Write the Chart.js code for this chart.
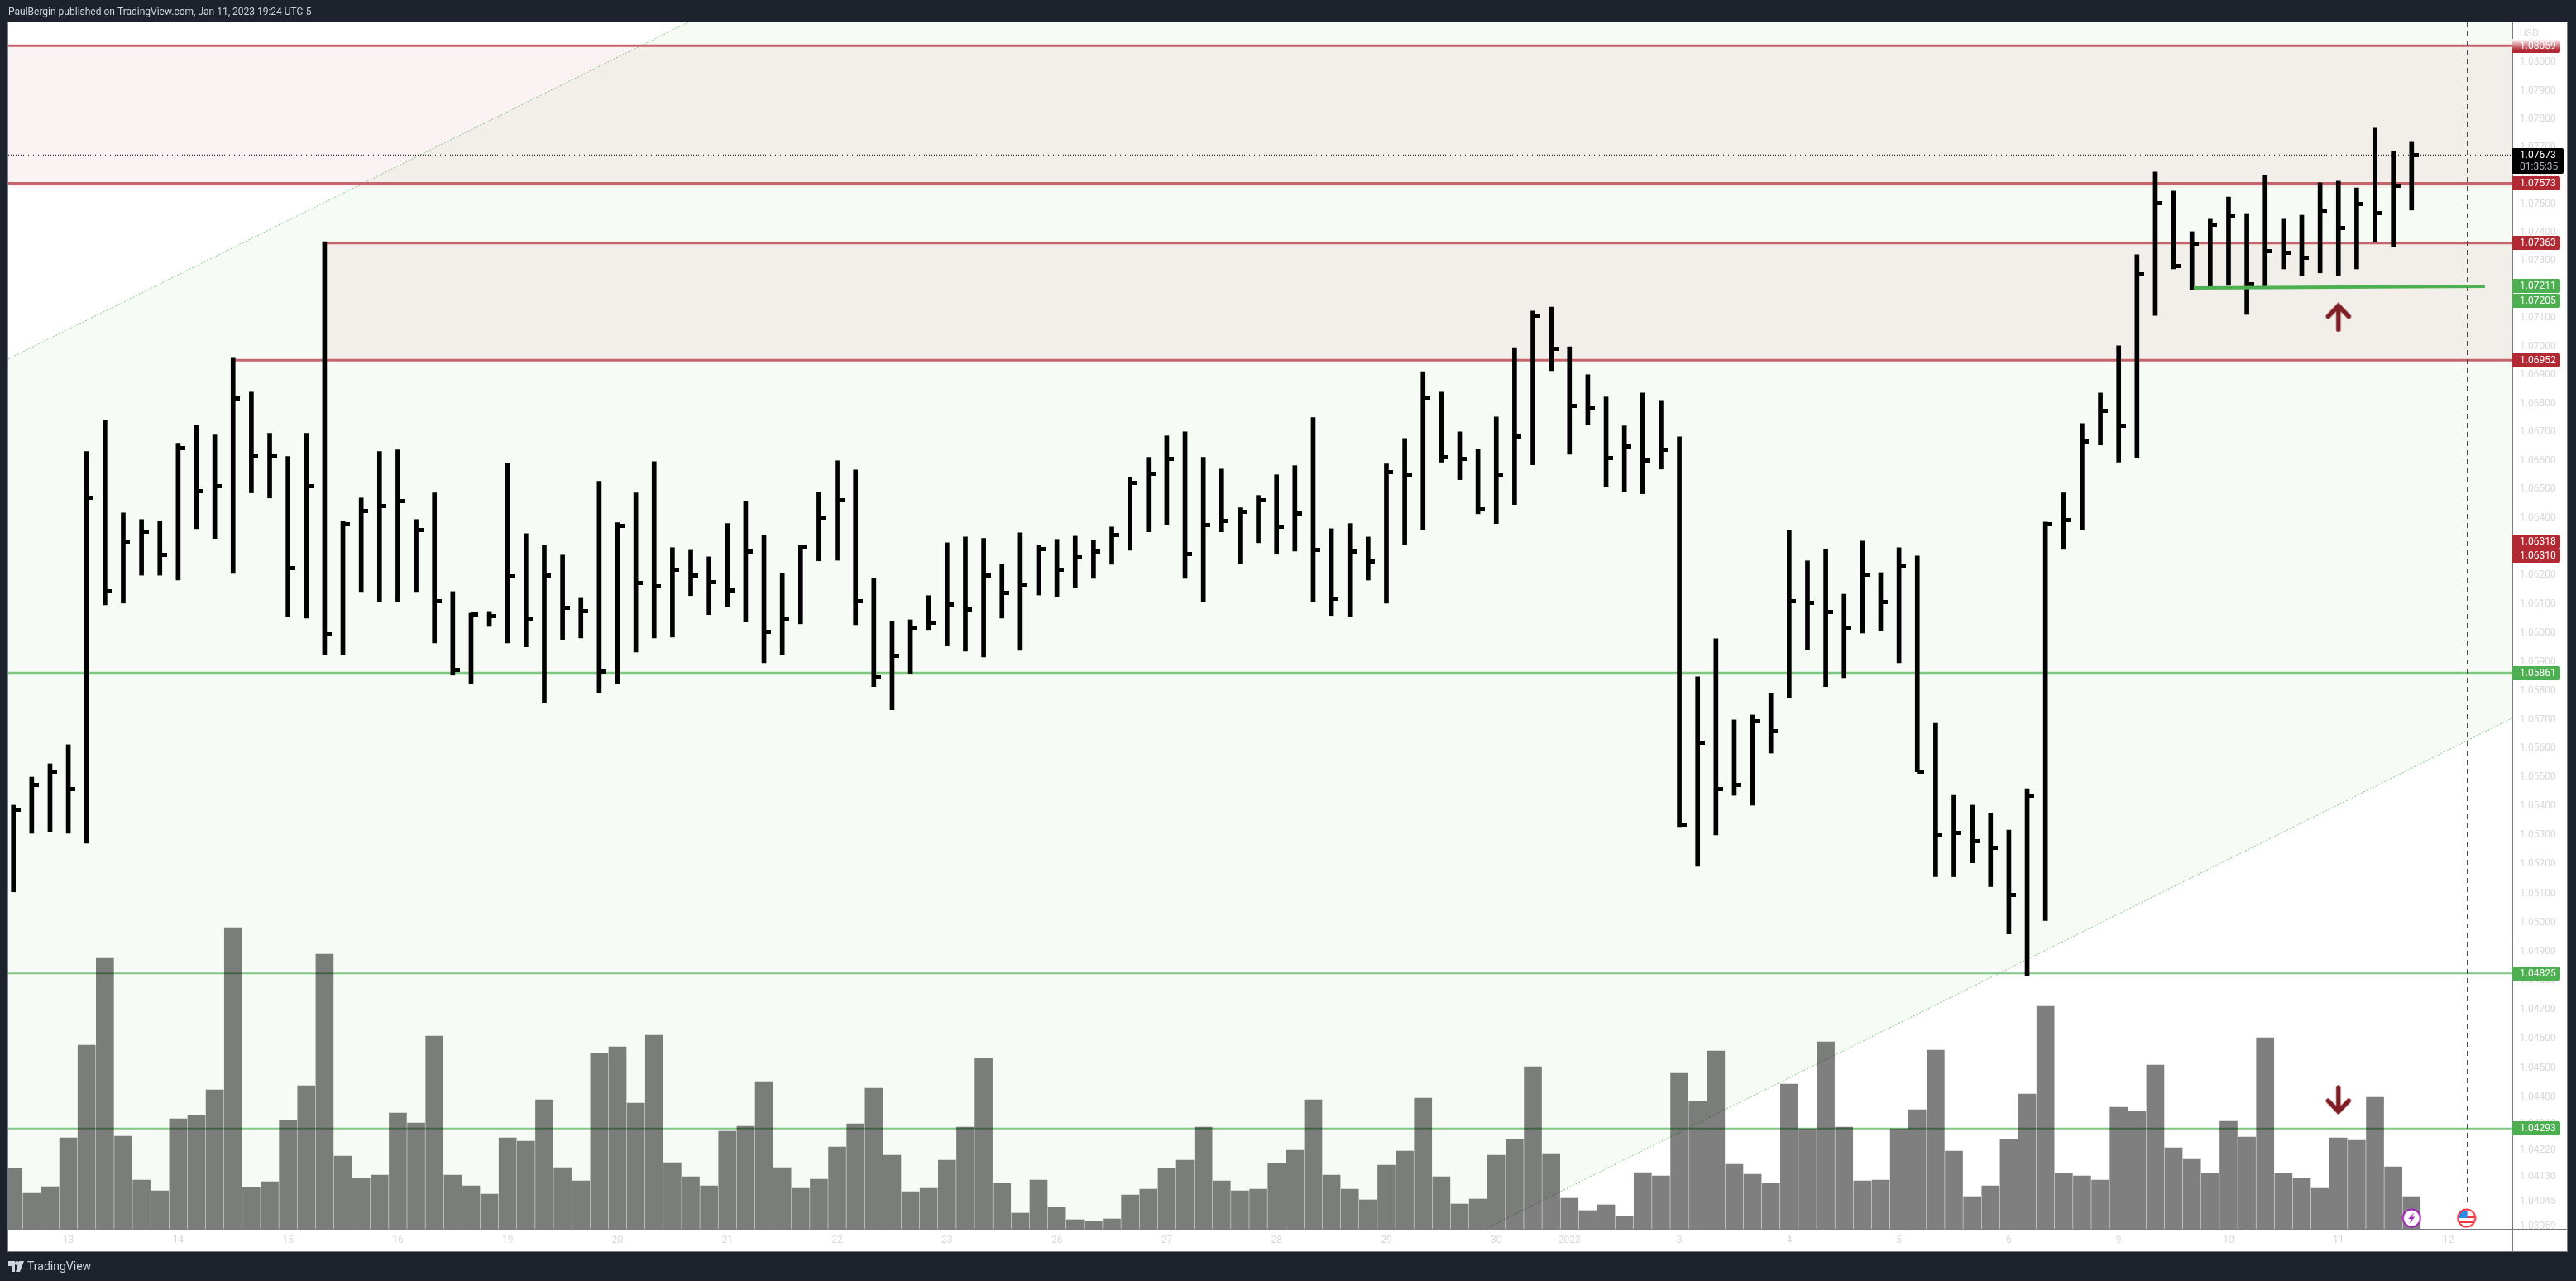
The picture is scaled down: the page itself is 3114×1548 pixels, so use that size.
<!DOCTYPE html>
<html>
<head>
<meta charset="utf-8">
<title>EURUSD 4h</title>
<script src="https://cdn.jsdelivr.net/npm/chart.js@4/dist/chart.umd.min.js"></script>
<style>
  html, body { margin: 0; padding: 0; background: #1e222d; overflow: hidden; }
  canvas { display: block; }
</style>
</head>
<body>
<canvas id="chart" width="3114" height="1548"></canvas>
<script>
// 4h bars, index 0 is the third last bar of Dec 12
const highs = [
  1.05404,1.05501,1.05547,1.05613,1.06632,1.06742,1.06418,1.06395,1.06389,1.06661,
  1.06725,1.06690,1.06959,1.06840,1.06696,1.06615,1.06696,1.07368,1.06389,1.06470,
  1.06632,1.06638,1.06395,1.06488,1.06144,1.06069,1.06075,1.06592,1.06346,1.06305,
  1.06271,1.06121,1.06528,1.06384,1.06488,1.06597,1.06297,1.06288,1.06265,1.06381,
  1.06459,1.06340,1.06207,1.06305,1.06491,1.06600,1.06568,1.06190,1.06041,1.06046,
  1.06130,1.06314,1.06334,1.06329,1.06239,1.06349,1.06305,1.06326,1.06337,1.06323,
  1.06369,1.06542,1.06612,1.06687,1.06701,1.06612,1.06571,1.06436,1.06479,1.06551,
  1.06583,1.06751,1.06363,1.06381,1.06334,1.06589,1.06678,1.06912,1.06840,1.06701,
  1.06641,1.06753,1.06996,1.07124,1.07138,1.06999,1.06901,1.06823,1.06722,1.06837,
  1.06811,1.06684,1.05848,1.05980,1.05699,1.05716,1.05791,1.06358,1.06251,1.06291,
  1.06135,1.06320,1.06210,1.06297,1.06268,1.05687,1.05438,1.05404,1.05376,1.05318,
  1.05461,1.06386,1.06488,1.06730,1.06837,1.07002,1.07322,1.07613,1.07546,1.07403,
  1.07447,1.07525,1.07467,1.07601,1.07447,1.07461,1.07575,1.07581,1.07557,1.07768,
  1.07686,1.07721
];
const lows = [
  1.05105,1.05307,1.05313,1.05307,1.05273,1.06098,1.06104,1.06201,1.06201,1.06184,
  1.06363,1.06329,1.06207,1.06488,1.06470,1.06058,1.06052,1.05923,1.05923,1.06144,
  1.06110,1.06110,1.06144,1.05966,1.05854,1.05825,1.06023,1.05966,1.05952,1.05757,
  1.05978,1.05983,1.05791,1.05825,1.05934,1.05983,1.05986,1.06130,1.06064,1.06092,
  1.06038,1.05897,1.05926,1.06032,1.06251,1.06253,1.06029,1.05814,1.05734,1.05860,
  1.06012,1.05955,1.05937,1.05917,1.06052,1.05940,1.06132,1.06127,1.06158,1.06190,
  1.06239,1.06288,1.06352,1.06378,1.06190,1.06107,1.06352,1.06242,1.06314,1.06274,
  1.06285,1.06110,1.06061,1.06058,1.06184,1.06104,1.06308,1.06358,1.06595,1.06534,
  1.06415,1.06381,1.06447,1.06586,1.06915,1.06623,1.06725,1.06508,1.06491,1.06485,
  1.06571,1.05330,1.05193,1.05301,1.05438,1.05404,1.05584,1.05774,1.05943,1.05814,
  1.05845,1.06000,1.06009,1.05897,1.05519,1.05157,1.05157,1.05205,1.05123,1.04960,
  1.04815,1.05006,1.06291,1.06360,1.06655,1.06595,1.06609,1.07109,1.07272,1.07200,
  1.07208,1.07214,1.07112,1.07211,1.07272,1.07249,1.07258,1.07249,1.07272,1.07368,
  1.07351,1.07479
];
const closes = [
  1.05387,1.05473,1.05519,1.05461,1.06470,1.06144,1.06317,1.06352,1.06271,1.06644,
  1.06493,1.06510,1.06817,1.06615,1.06615,1.06225,1.06510,1.05995,1.06378,1.06424,
  1.06441,1.06459,1.06358,1.06110,1.05871,1.06064,1.06058,1.06196,1.06046,1.06201,
  1.06087,1.06075,1.05866,1.06372,1.06173,1.06161,1.06219,1.06199,1.06176,1.06147,
  1.06282,1.06003,1.06049,1.06297,1.06401,1.06462,1.06112,1.05845,1.05920,1.06018,
  1.06035,1.06098,1.06081,1.06201,1.06138,1.06167,1.06291,1.06219,1.06262,1.06282,
  1.06340,1.06522,1.06554,1.06606,1.06274,1.06375,1.06389,1.06421,1.06462,1.06369,
  1.06415,1.06288,1.06118,1.06282,1.06248,1.06560,1.06551,1.06820,1.06612,1.06606,
  1.06430,1.06548,1.06684,1.07109,1.06993,1.06791,1.06782,1.06609,1.06649,1.06600,
  1.06638,1.05336,1.05619,1.05461,1.05473,1.05693,1.05659,1.06110,1.06104,1.06072,
  1.06020,1.06204,1.06107,1.06233,1.05521,1.05301,1.05307,1.05279,1.05256,1.05094,
  1.05438,1.06378,1.06392,1.06667,1.06774,1.06722,1.07252,1.07502,1.07281,1.07362,
  1.07429,1.07461,1.07217,1.07333,1.07330,1.07310,1.07476,1.07415,1.07499,1.07467,
  1.07566,1.07673
];
// no volume scale on the chart, so these are relative units
const volumes = [
  73,43,51,110,222,327,112,59,46,133,137,168,364,50,57,131,173,332,88,61,
  65,140,128,233,65,52,42,110,106,156,74,58,212,220,152,234,80,63,52,118,
  124,178,74,49,60,99,127,170,89,45,49,83,123,206,55,19,59,26,11,9,
  12,41,48,73,83,123,58,46,48,79,95,156,65,48,35,77,94,158,63,30,
  36,89,108,196,91,37,22,29,15,68,64,188,154,215,78,66,55,175,121,226,
  123,58,59,121,144,216,94,39,52,108,163,269,67,64,59,147,142,198,98,85,
  67,130,111,231,67,61,49,110,107,159,75,39
];
const volumeMax = 1458;

const dayIndex = [3,9,15,21,27,33,39,45,51,57,63,69,75,81,85,91,97,103,109,115,121,127,133];
const dayLabels = ['13','14','15','16','19','20','21','22','23','26','27','28','29','30','2023','3','4','5','6','9','10','11','12'];

const priceTicks = [
  1.08,1.079,1.078,1.077,1.076,1.075,1.074,1.073,1.072,1.071,1.07,1.069,1.068,1.067,1.066,1.065,1.064,1.063,1.062,
  1.061,1.06,1.059,1.058,1.057,1.056,1.055,1.054,1.053,1.052,1.051,1.05,1.049,1.048,1.047,1.046,1.045,1.044,
  1.0431,1.0422,1.0413,1.04045,1.03959
];
const priceMin = 1.03951;
const priceMax = 1.08142;
const xMin = -0.28;
const xMax = 136.5;

// price axis labels: value, colour, shift when two labels would overlap
const pillValues = [1.08059,1.07573,1.07363,1.07211,1.07205,1.06952,1.06318,1.06310,1.05861,1.04825,1.04293];
const pillColors = ['#b22833','#b22833','#b22833','#4caf50','#4caf50','#b22833','#b22833','#b22833','#4caf50','#4caf50','#4caf50'];
const pillShifts = [0,0,0,0,15,0,0,14,0,0,0];

const lastPrice = 1.07673;
const countdown = '01:35:35';

const RED = '#c5646a';
const GREEN = '#81c784';
const AXIS_TEXT = '#d8d8d8';

const pointsOf = (x0, y0, x1, y1) => [{ x: x0, y: y0 }, { x: x1, y: y1 }];

const lineSet = (data, color, width, order, extra) => Object.assign({
  type: 'line', data: data, borderColor: color, borderWidth: width,
  pointRadius: 0, order: order, yAxisID: 'y', tension: 0, fill: false
}, extra || {});

// little canvases used as point styles
const makeCanvas = (w, h, draw) => {
  const c = document.createElement('canvas');
  c.width = w;
  c.height = h;
  draw(c.getContext('2d'));
  return c;
};

const closeTick = makeCanvas(17, 5, g => {
  g.fillStyle = '#000';
  g.fillRect(8, 0, 9, 5);
});

const arrow = up => makeCanvas(33, 36, g => {
  g.translate(16.5, 18);
  if (!up) g.rotate(Math.PI);
  g.strokeStyle = '#7f1d24';
  g.lineWidth = 5.5;
  g.lineCap = 'round';
  g.lineJoin = 'miter';
  g.beginPath();
  g.moveTo(0, 15);
  g.lineTo(0, -14);
  g.moveTo(-12.5, -1);
  g.lineTo(0, -14);
  g.lineTo(12.5, -1);
  g.stroke();
});

const boltIcon = makeCanvas(24, 24, g => {
  g.fillStyle = '#fff';
  g.strokeStyle = '#9c27b0';
  g.lineWidth = 2;
  g.beginPath();
  g.arc(12, 12, 10.5, 0, Math.PI * 2);
  g.fill();
  g.stroke();
  g.fillStyle = '#9c27b0';
  g.beginPath();
  g.moveTo(15, 5);
  g.lineTo(8, 13);
  g.lineTo(11.5, 13);
  g.lineTo(9, 19);
  g.lineTo(16, 10.5);
  g.lineTo(12.5, 10.5);
  g.closePath();
  g.fill();
});

const flagIcon = makeCanvas(24, 24, g => {
  g.fillStyle = '#fff';
  g.beginPath();
  g.arc(12, 12, 10.5, 0, Math.PI * 2);
  g.fill();
  g.save();
  g.clip();
  g.fillStyle = '#f23645';
  g.fillRect(12, 9, 12, 3);
  g.fillRect(2, 15, 20, 3);
  g.fillStyle = '#2e86e6';
  g.fillRect(2, 3, 11, 9);
  g.restore();
  g.strokeStyle = '#f23645';
  g.lineWidth = 2;
  g.beginPath();
  g.arc(12, 12, 10.5, 0, Math.PI * 2);
  g.stroke();
});

const framePlugin = {
  id: 'frame',
  beforeDraw: chart => {
    const g = chart.ctx;
    g.save();
    g.fillStyle = '#1e222d';
    g.fillRect(0, 0, 3114, 1548);
    g.fillStyle = '#fff';
    g.fillRect(10, 27, 3093, 1485);
    g.restore();
  },
  afterDraw: chart => {
    const g = chart.ctx;
    const area = chart.chartArea;
    const yScale = chart.scales.y;
    g.save();

    g.strokeStyle = '#787b86';
    g.lineWidth = 1;
    g.strokeRect(9.5, 26.5, 3094, 1486);
    g.beginPath();
    g.moveTo(area.right + 0.5, 27);
    g.lineTo(area.right + 0.5, 1512);
    g.moveTo(10, area.bottom + 0.5);
    g.lineTo(3103, area.bottom + 0.5);
    g.stroke();

    g.textBaseline = 'middle';
    g.textAlign = 'left';
    g.font = '12px Roboto';
    g.fillStyle = AXIS_TEXT;
    g.fillText('USD', 3046, 41);

    pillValues.forEach((v, i) => {
      const y = yScale.getPixelForValue(v) + pillShifts[i];
      if (i === 0) {
        const fade = g.createLinearGradient(0, y - 8, 0, y + 5);
        fade.addColorStop(0, '#ffffff');
        fade.addColorStop(1, pillColors[i]);
        g.fillStyle = fade;
      } else {
        g.fillStyle = pillColors[i];
      }
      g.beginPath();
      g.roundRect(area.right, Math.round(y - 8.5), 58, 17, [0, 2, 2, 0]);
      g.fill();
      g.fillStyle = '#fff';
      g.fillText(v.toFixed(5), 3046, y + 0.5);
    });

    const lastY = yScale.getPixelForValue(lastPrice);
    g.fillStyle = '#000';
    g.beginPath();
    g.roundRect(area.right, Math.round(lastY - 8.5), 62, 31, [0, 2, 2, 0]);
    g.fill();
    g.fillStyle = '#fff';
    g.fillText(lastPrice.toFixed(5), 3046, lastY + 0.5);
    g.fillStyle = '#b2b5be';
    g.fillText(countdown, 3046, lastY + 14.5);

    // header and footer
    g.fillStyle = '#d1d4dc';
    g.font = '12px Roboto';
    g.fillText('PaulBergin published on TradingView.com, Jan 11, 2023 19:24 UTC-5', 10, 15);
    g.font = '14px Roboto';
    g.fillText('TradingView', 33, 1531);

    // logo
    g.fillStyle = '#d1d4dc';
    g.beginPath();
    g.moveTo(10, 1524);
    g.lineTo(18, 1524);
    g.lineTo(18, 1537);
    g.lineTo(14, 1537);
    g.lineTo(14, 1530);
    g.lineTo(10, 1530);
    g.closePath();
    g.moveTo(23, 1524);
    g.lineTo(29, 1524);
    g.lineTo(24, 1537);
    g.lineTo(19, 1537);
    g.closePath();
    g.fill();
    g.beginPath();
    g.arc(20.5, 1526.5, 2.5, 0, Math.PI * 2);
    g.fill();

    g.restore();
  }
};

new Chart(document.getElementById('chart'), {
  type: 'bar',
  plugins: [framePlugin],
  data: {
    datasets: [
      // channel
      lineSet(pointsOf(xMin, 1.06956, xMax, 1.1139), GREEN, 1, 20, {
        fill: '+1', backgroundColor: 'rgba(76,175,80,0.05)', borderDash: [2, 2]
      }),
      lineSet(pointsOf(xMin, 1.01478, xMax, 1.05705), GREEN, 1, 20, { borderDash: [2, 2] }),
      // red zones
      lineSet(pointsOf(xMin, 1.08059, xMax, 1.08059), RED, 0, 18, {
        fill: '+1', backgroundColor: 'rgba(188,55,55,0.06)'
      }),
      lineSet(pointsOf(xMin, 1.07559, xMax, 1.07559), RED, 0, 18),
      lineSet(pointsOf(17, 1.07363, xMax, 1.07363), RED, 0, 18, {
        fill: '+1', backgroundColor: 'rgba(188,55,55,0.06)'
      }),
      lineSet(pointsOf(17, 1.06952, xMax, 1.06952), RED, 0, 18),
      // levels
      lineSet(pointsOf(xMin, 1.08059, xMax, 1.08059), RED, 3, 15),
      lineSet(pointsOf(xMin, 1.07573, xMax, 1.07573), RED, 3, 15),
      lineSet(pointsOf(17, 1.07363, xMax, 1.07363), RED, 3, 15),
      lineSet(pointsOf(12, 1.06952, xMax, 1.06952), RED, 3, 15),
      lineSet(pointsOf(xMin, 1.05861, xMax, 1.05861), GREEN, 3.5, 15),
      lineSet(pointsOf(xMin, 1.04825, xMax, 1.04825), GREEN, 2, 15),
      lineSet(pointsOf(xMin, 1.04293, xMax, 1.04293), GREEN, 2, 15),
      lineSet(pointsOf(xMin, lastPrice, xMax, lastPrice), '#000', 1, 14, { borderDash: [1, 2] }),
      lineSet(pointsOf(134.04, priceMax, 134.04, 1.04041), '#3d3f48', 1, 14, { borderDash: [6, 5] }),
      // volume
      {
        label: 'Volume',
        data: volumes.map((v, i) => ({ x: i, y: v })),
        backgroundColor: 'rgba(0,0,0,0.5)',
        barThickness: 21,
        grouped: false,
        yAxisID: 'vol',
        order: 10
      },
      // price bars
      {
        label: 'Price',
        data: highs.map((h, i) => ({ x: i, y: [lows[i], h] })),
        backgroundColor: '#000',
        barThickness: 5,
        grouped: false,
        yAxisID: 'y',
        order: 5
      },
      {
        type: 'scatter',
        label: 'Close',
        data: closes.map((c, i) => ({ x: i, y: c })),
        pointStyle: closeTick,
        pointRadius: 1,
        yAxisID: 'y',
        order: 4
      },
      // breakout line and marks
      lineSet(pointsOf(119.1, 1.07205, 135, 1.07211), '#4caf50', 4, 3),
      { type: 'scatter', data: [{ x: 127, y: 1.07102 }], pointStyle: arrow(true), pointRadius: 1, yAxisID: 'y', order: 2 },
      { type: 'scatter', data: [{ x: 127, y: 1.04391 }], pointStyle: arrow(false), pointRadius: 1, yAxisID: 'y', order: 2 },
      { type: 'scatter', data: [{ x: 131, y: 13 }], pointStyle: boltIcon, pointRadius: 1, yAxisID: 'vol', order: 2 },
      { type: 'scatter', data: [{ x: 134, y: 13 }], pointStyle: flagIcon, pointRadius: 1, yAxisID: 'vol', order: 2 }
    ]
  },
  options: {
    responsive: false,
    animation: false,
    devicePixelRatio: 1,
    events: [],
    layout: { padding: { left: 10, top: 27, right: 11, bottom: 36 } },
    plugins: { legend: { display: false }, tooltip: { enabled: false } },
    scales: {
      x: {
        type: 'linear',
        offset: false,
        min: xMin,
        max: xMax,
        grid: { display: false, drawTicks: false },
        border: { display: false },
        afterBuildTicks: scale => { scale.ticks = dayIndex.map(v => ({ value: v })); },
        afterFit: scale => { scale.height = 27; },
        ticks: {
          autoSkip: false,
          maxRotation: 0,
          padding: 7,
          color: AXIS_TEXT,
          font: { family: 'Roboto', size: 12 },
          callback: value => dayLabels[dayIndex.indexOf(value)]
        }
      },
      y: {
        type: 'logarithmic',
        position: 'right',
        min: priceMin,
        max: priceMax,
        grid: { display: false, drawTicks: false },
        border: { display: false },
        afterBuildTicks: scale => { scale.ticks = priceTicks.map(v => ({ value: v })); },
        afterFit: scale => { scale.width = 66; },
        ticks: {
          autoSkip: false,
          padding: 9,
          color: AXIS_TEXT,
          font: { family: 'Roboto', size: 12 },
          callback: value => value.toFixed(5)
        }
      },
      vol: {
        type: 'linear',
        display: false,
        min: 0,
        max: volumeMax
      }
    }
  }
});
</script>
</body>
</html>
